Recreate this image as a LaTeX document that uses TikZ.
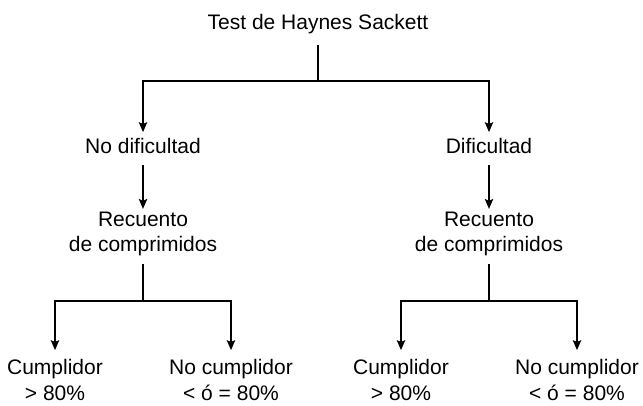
\documentclass[tikz,border=0pt]{standalone}
\usepackage{fontspec}
\setmainfont{Liberation Sans}
\usetikzlibrary{arrows.meta}

\begin{document}
\begin{tikzpicture}[x=1pt,y=-1pt,
    txt/.style={font=\fontsize{21}{25}\selectfont,align=center,inner sep=0pt},
    con/.style={line width=1.1pt},
    arr/.style={con,-{Stealth[length=10pt,width=8.5pt,inset=2pt]}}]
  \useasboundingbox (0,0) rectangle (643,405);
  \node[txt] (test) at (318,24) {Test de Haynes Sackett};
  \node[txt] (nodif) at (143,146) {No dificultad};
  \node[txt] (dif) at (489,146) {Dificultad};
  \node[txt] (rec1) at (143,234) {Recuento\\de comprimidos};
  \node[txt] (rec2) at (489,234) {Recuento\\de comprimidos};
  \node[txt,font=\fontsize{21}{26}\selectfont] (cum1) at (55,380) {Cumplidor\\> 80\%};
  \node[txt,font=\fontsize{21}{26}\selectfont] (nocum1) at (231,380) {No cumplidor\\< ó = 80\%};
  \node[txt,font=\fontsize{21}{26}\selectfont] (cum2) at (401,380) {Cumplidor\\> 80\%};
  \node[txt,font=\fontsize{21}{26}\selectfont] (nocum2) at (577,380) {No cumplidor\\< ó = 80\%};
  \coordinate (s0) at (318,81);
  \coordinate (s1) at (143,301);
  \coordinate (s2) at (489,301);
  \draw[con,shorten <=11pt] (test) -- (s0);
  \draw[arr,shorten >=6pt] (s0) -| (nodif);
  \draw[arr,shorten >=6pt] (s0) -| (dif);
  \draw[arr,shorten <=11pt,shorten >=3pt] (nodif) -- (rec1);
  \draw[arr,shorten <=11pt,shorten >=3pt] (dif) -- (rec2);
  \draw[con,shorten <=8pt] (rec1) -- (s1);
  \draw[con,shorten <=8pt] (rec2) -- (s2);
  \draw[arr,shorten >=9pt] (s1) -| (cum1);
  \draw[arr,shorten >=9pt] (s1) -| (nocum1);
  \draw[arr,shorten >=9pt] (s2) -| (cum2);
  \draw[arr,shorten >=9pt] (s2) -| (nocum2);
\end{tikzpicture}
\end{document}
